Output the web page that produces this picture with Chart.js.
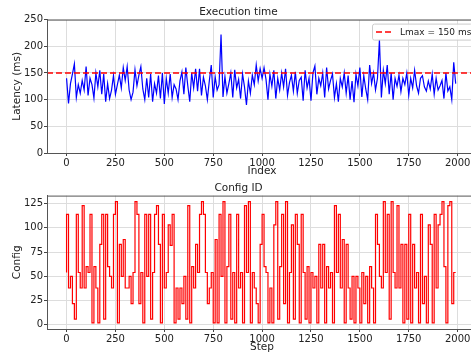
<!DOCTYPE html>
<html>
<head>
<meta charset="utf-8">
<script src="https://cdn.jsdelivr.net/npm/chart.js@4"></script>
<style>
  html, body { margin: 0; padding: 0; background: #fff; }
  body { width: 471px; height: 355px; overflow: hidden; position: relative; }
  canvas { position: absolute; left: 0; }
  #latencyChart { top: 0; }
  #configChart { top: 178px; }
</style>
</head>
<body>
<canvas id="latencyChart" width="480" height="178"></canvas>
<canvas id="configChart" width="480" height="177"></canvas>
<script>
const sampleStep = 10;

const latency = [
  140, 93, 130, 148, 167, 104, 128, 112, 136, 118, 162, 108, 140, 128, 103, 150, 124, 155, 110, 148, 96, 130, 102, 118, 145,
  110, 128, 146, 122, 160, 136, 162, 118, 100, 114, 156, 126, 146, 162, 120, 100, 140, 104, 148, 96, 130, 112, 145, 102, 150,
  92, 140, 112, 148, 104, 128, 120, 100, 135, 152, 110, 160, 126, 96, 150, 122, 158, 116, 158, 108, 142, 126, 100, 135, 165,
  104, 143, 118, 128, 222, 105, 143, 112, 130, 150, 104, 156, 122, 138, 102, 148, 124, 90, 135, 112, 146, 128, 165, 135, 158,
  140, 160, 138, 100, 148, 125, 155, 102, 140, 118, 150, 124, 158, 108, 132, 146, 116, 152, 112, 136, 142, 98, 155, 122, 140,
  98, 150, 163, 110, 140, 126, 150, 104, 160, 120, 136, 148, 104, 130, 96, 140, 124, 150, 112, 145, 100, 135, 95, 148, 126,
  160, 105, 145, 120, 100, 165, 130, 150, 118, 140, 212, 104, 155, 130, 165, 110, 150, 100, 140, 125, 146, 115, 140, 128, 150,
  108, 140, 122, 155, 126, 112, 140, 145, 124, 116, 135, 120, 148, 110, 140, 118, 126, 136, 102, 150, 116, 124, 100, 170, 130
];

const configId = [
  54, 114, 38, 50, 22, 6, 114, 54, 38, 123, 38, 60, 54, 114, 2, 60, 38, 2, 83, 114, 6, 114, 60, 50, 38,
  114, 127, 2, 83, 50, 88, 38, 38, 50, 22, 54, 127, 114, 22, 54, 2, 114, 50, 114, 6, 54, 114, 123, 83, 2,
  114, 38, 54, 103, 82, 114, 2, 38, 6, 38, 22, 50, 6, 123, 2, 60, 38, 83, 54, 114, 127, 114, 54, 22, 38,
  54, 2, 88, 2, 114, 50, 127, 2, 60, 114, 6, 54, 2, 114, 38, 54, 2, 123, 54, 127, 2, 54, 38, 22, 2,
  83, 114, 60, 54, 2, 38, 2, 103, 127, 6, 60, 114, 22, 127, 2, 54, 103, 6, 114, 83, 2, 114, 54, 6, 60,
  2, 54, 38, 50, 2, 83, 38, 83, 2, 60, 38, 54, 2, 123, 54, 114, 38, 88, 2, 83, 38, 6, 50, 2, 50,
  38, 2, 54, 22, 50, 2, 60, 38, 2, 114, 83, 50, 38, 127, 54, 114, 6, 127, 54, 38, 123, 38, 83, 2, 83,
  6, 114, 2, 83, 38, 54, 2, 114, 22, 50, 2, 103, 83, 2, 114, 38, 103, 114, 127, 60, 2, 123, 127, 22, 54
];

const lmax = 150;
const xTicks = [0, 250, 500, 750, 1000, 1250, 1500, 1750, 2000];
const latencyTicks = [0, 50, 100, 150, 200, 250];
const configTicks = [0, 25, 50, 75, 100, 125];

Chart.defaults.font.family = 'DejaVu Sans';
Chart.defaults.font.size = 10;
Chart.defaults.color = '#222';

const toPoints = arr => arr.map((v, i) => ({ x: i * sampleStep, y: v }));

// matplotlib-like box around the axes
const spines = {
  id: 'spines',
  afterDatasetsDraw(chart) {
    const a = chart.chartArea, ctx = chart.ctx;
    ctx.save();
    ctx.strokeStyle = '#555';
    ctx.lineWidth = 1;
    ctx.strokeRect(a.left + 0.5, a.top + 0.5, a.right - a.left, a.bottom - a.top);
    ctx.restore();
  }
};

const lmaxLine = {
  id: 'lmaxLine',
  afterDatasetsDraw(chart) {
    const a = chart.chartArea, ctx = chart.ctx;
    const y = chart.scales.y.getPixelForValue(lmax);
    ctx.save();
    ctx.strokeStyle = '#ff0000';
    ctx.lineWidth = 1.5;
    ctx.setLineDash([6, 3]);
    ctx.beginPath();
    ctx.moveTo(a.left, y);
    ctx.lineTo(a.right, y);
    ctx.stroke();
    // legend box
    const bx = a.right - 105, by = a.top + 4;
    ctx.setLineDash([]);
    ctx.fillStyle = 'rgba(255,255,255,0.85)';
    ctx.strokeStyle = '#cccccc';
    ctx.lineWidth = 1;
    ctx.beginPath();
    ctx.roundRect(bx + 0.5, by + 0.5, 100, 16, 2);
    ctx.fill();
    ctx.stroke();
    ctx.strokeStyle = '#ff0000';
    ctx.lineWidth = 1.5;
    ctx.setLineDash([6, 3]);
    ctx.beginPath();
    ctx.moveTo(bx + 4, by + 8.5);
    ctx.lineTo(bx + 21, by + 8.5);
    ctx.stroke();
    ctx.fillStyle = '#222';
    ctx.font = '9px "DejaVu Sans"';
    ctx.textBaseline = 'middle';
    ctx.fillText('Lmax = ' + lmax + ' ms', bx + 28, by + 9);
    ctx.restore();
  }
};

function gridOpts() {
  return { color: '#dddddd', lineWidth: 1, tickColor: '#444', tickLength: 3 };
}

function xAxis(title, height, pb) {
  return {
    type: 'linear', min: -100, max: 2099,
    afterBuildTicks: s => { s.ticks = xTicks.map(v => ({ value: v })); },
    afterFit: s => { s.height = height; },
    ticks: { padding: 1, maxRotation: 0, autoSkip: false, callback: v => String(v) },
    grid: gridOpts(),
    border: { display: true, color: '#555' },
    title: { display: true, text: title, color: '#222', font: { size: 10.5 }, padding: { top: 0, bottom: pb } }
  };
}

function yAxis(title, min, max, ticks) {
  return {
    min: min, max: max,
    afterBuildTicks: s => { s.ticks = ticks.map(v => ({ value: v })); },
    afterFit: s => { s.width = 47; },
    ticks: { padding: 1, callback: v => String(v) },
    grid: gridOpts(),
    border: { display: true, color: '#555' },
    title: { display: true, text: title, color: '#222', font: { size: 10.5 }, padding: { top: 11, bottom: 0 } }
  };
}

new Chart(document.getElementById('latencyChart'), {
  type: 'line',
  data: {
    datasets: [{
      label: 'Latency',
      data: toPoints(latency),
      borderColor: '#0000ff',
      borderWidth: 1.2,
      pointRadius: 0,
      tension: 0
    }]
  },
  options: {
    responsive: false,
    animation: false,
    devicePixelRatio: 1,
    layout: { padding: { left: 0, right: 3, top: 0, bottom: 0 } },
    plugins: {
      legend: { display: false },
      tooltip: { enabled: false },
      title: { display: true, text: 'Execution time', color: '#222', font: { size: 10.5, weight: 'normal' }, padding: { top: 6, bottom: 1 } }
    },
    scales: {
      x: xAxis('Index', 25, 0),
      y: yAxis('Latency (ms)', 0, 250, latencyTicks)
    }
  },
  plugins: [lmaxLine, spines]
});

new Chart(document.getElementById('configChart'), {
  type: 'line',
  data: {
    datasets: [{
      label: 'Config',
      data: toPoints(configId),
      borderColor: '#ff0000',
      borderWidth: 1.2,
      pointRadius: 0,
      stepped: 'after'
    }]
  },
  options: {
    responsive: false,
    animation: false,
    devicePixelRatio: 1,
    layout: { padding: { left: 0, right: 3, top: 0, bottom: 0 } },
    plugins: {
      legend: { display: false },
      tooltip: { enabled: false },
      title: { display: true, text: 'Config ID', color: '#222', font: { size: 10.5, weight: 'normal' }, padding: { top: 4, bottom: 1 } }
    },
    scales: {
      x: xAxis('Step', 26, 1),
      y: yAxis('Config', -4.25, 133.25, configTicks)
    }
  },
  plugins: [spines]
});
</script>
</body>
</html>
